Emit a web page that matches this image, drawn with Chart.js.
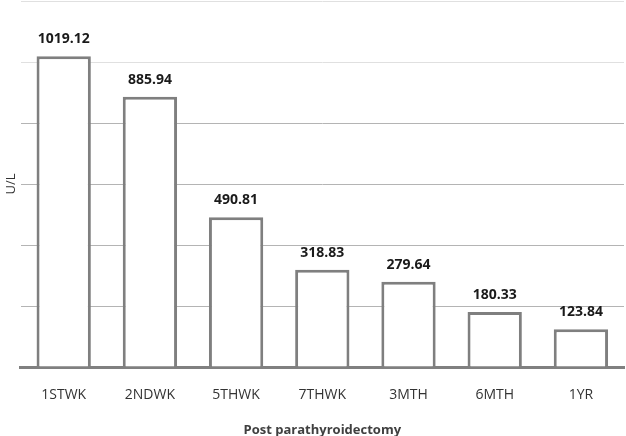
<!DOCTYPE html>
<html>
<head>
<meta charset="utf-8">
<script src="https://cdn.jsdelivr.net/npm/chart.js@4/dist/chart.umd.min.js"></script>
<style>
html,body{margin:0;padding:0;background:#fff;}
#wrap{width:626px;height:436px;position:relative;}
</style>
</head>
<body>
<div id="wrap"><canvas id="c"></canvas></div>
<script>
const categories = ["1STWK","2NDWK","5THWK","7THWK","3MTH","6MTH","1YR"];
const values = [1019.12, 885.94, 490.81, 318.83, 279.64, 180.33, 123.84];
const valueLabels = ["1019.12","885.94","490.81","318.83","279.64","180.33","123.84"];

const FONT = "'Open Sans', 'Liberation Sans', sans-serif";

const labelPlugin = {
  id: 'barLabels',
  afterDatasetsDraw(chart) {
    const ctx = chart.ctx;
    const meta = chart.getDatasetMeta(0);
    ctx.save();
    ctx.font = "bold 14px " + FONT;
    ctx.fillStyle = "#1a1a1a";
    ctx.textAlign = "center";
    ctx.textBaseline = "bottom";
    meta.data.forEach((bar, i) => {
      ctx.fillText(valueLabels[i], bar.x, bar.y - 10);
    });
    ctx.restore();
  }
};

new Chart(document.getElementById('c'), {
  type: 'bar',
  data: {
    labels: categories,
    datasets: [{
      data: values,
      backgroundColor: '#ffffff',
      borderColor: '#7f7f7f',
      borderWidth: 3,
      borderSkipped: 'bottom',
      categoryPercentage: 1.0,
      barPercentage: 0.63
    }]
  },
  options: {
    responsive: true,
    maintainAspectRatio: false,
    animation: false,
    layout: { padding: { top: 1, right: 2, left: 3, bottom: 0 } },
    plugins: { legend: { display: false }, tooltip: { enabled: false } },
    scales: {
      y: {
        min: 0, max: 1200,
        ticks: { display: false, stepSize: 200 },
        border: { display: false },
        grid: {
          color: (c) => (c.tick && c.tick.value >= 1000) ? '#e0e0e0' : '#b4b4b4',
          lineWidth: 1, drawTicks: false
        },
        title: { display: true, text: 'U/L', color: '#333', font: { size: 13, family: FONT }, padding: { top: 0, bottom: 2 } }
      },
      x: {
        grid: { display: false, drawTicks: false },
        border: { display: true, color: '#808080', width: 3 },
        ticks: { color: '#333', font: { size: 14, family: FONT }, padding: 20 },
        title: { display: true, text: 'Post parathyroidectomy', color: '#404040', font: { size: 13, family: FONT, weight: 'bold' }, padding: { top: -1.5, bottom: -2 } }
      }
    }
  },
  plugins: [labelPlugin]
});
</script>
</body>
</html>
